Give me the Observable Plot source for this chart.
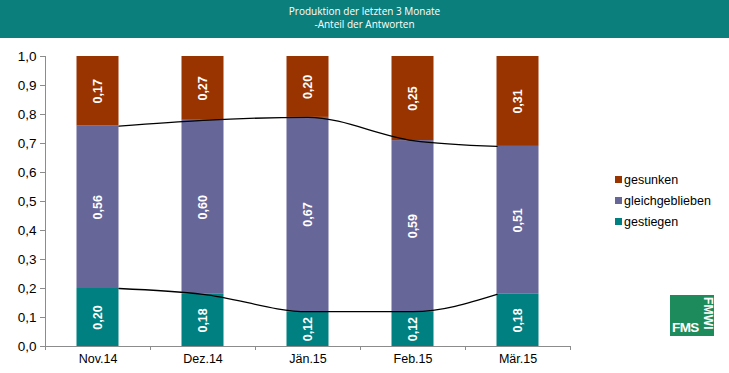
<!DOCTYPE html>
<html><head><meta charset="utf-8">
<script src="https://cdn.jsdelivr.net/npm/d3@7"></script>
<script src="https://cdn.jsdelivr.net/npm/@observablehq/plot@0.6"></script>
<style>
body{margin:0;background:#fff;font-family:"Liberation Sans",Arial,sans-serif;}
#wrap{position:relative;width:729px;height:373px;overflow:hidden;background:#fff}
#head{height:38px;background:#0b7f7c;color:#fff;text-align:center;font-size:10px;line-height:13px;padding-top:5px;box-sizing:border-box;font-family:"Open Sans","Liberation Sans",sans-serif;}
#chart svg{display:block}
.leg{position:absolute;left:615px;font-size:12.5px;color:#000;line-height:14px;white-space:nowrap}
.leg i{display:inline-block;width:7px;height:7px;margin-right:2px;vertical-align:1px}
#logo{position:absolute;left:670px;top:295px;width:44px;height:41px;background:#1d8b5c;overflow:hidden}
#logo .fms{position:absolute;left:2px;bottom:2px;color:#fff;font-weight:bold;font-size:13.5px;letter-spacing:-0.6px;line-height:12px}
#logo .fmwi{position:absolute;left:32px;top:2px;color:#fff;font-weight:bold;font-size:12px;line-height:11px;transform-origin:0 0;transform:translate(11px,0) rotate(90deg);letter-spacing:0.2px;white-space:nowrap}
</style></head>
<body>
<div id="wrap">
  <div id="head">Produktion der letzten 3 Monate<br>-Anteil der Antworten</div>
  <div id="chart"></div>
  <div id="legend"></div>
  <div id="logo"><span class="fms">FMS</span><span class="fmwi">FMWI</span></div>
</div>
<script>
const months = ["Nov.14", "Dez.14", "Jän.15", "Feb.15", "Mär.15"];
const gestiegen = [0.20, 0.18, 0.12, 0.12, 0.18];
const gleichgeblieben = [0.56, 0.60, 0.67, 0.59, 0.51];
const gesunken = [0.17, 0.27, 0.20, 0.25, 0.31];
const seriesNames = ["gesunken", "gleichgeblieben", "gestiegen"];
const seriesColors = {gesunken: "#993300", gleichgeblieben: "#666699", gestiegen: "#008080"};
const yTicks = [0, 0.1, 0.2, 0.3, 0.4, 0.5, 0.6, 0.7, 0.8, 0.9, 1.0];
const total = 1.0;
const halfBar = 0.2;

const fmt = v => v.toFixed(2).replace(".", ",");
const rows = [];
months.forEach((m, i) => {
  const g = gestiegen[i], s = gleichgeblieben[i];
  rows.push({i, series: "gestiegen", y1: 0, y2: g, label: fmt(g)});
  rows.push({i, series: "gleichgeblieben", y1: g, y2: g + s, label: fmt(s)});
  rows.push({i, series: "gesunken", y1: g + s, y2: total, label: fmt(gesunken[i])});
});
const n = months.length;
const lineX = i => i === 0 ? i + halfBar : i === n - 1 ? i - halfBar : i;
const lower = months.map((m, i) => ({x: lineX(i), y: gestiegen[i]}));
const upper = months.map((m, i) => ({x: lineX(i), y: gestiegen[i] + gleichgeblieben[i]}));

const chart = Plot.plot({
  width: 729, height: 335,
  marginLeft: 45, marginRight: 159, marginTop: 18, marginBottom: 27,
  style: {fontFamily: "'Liberation Sans', Arial, sans-serif", background: "#fff"},
  x: {type: "linear", domain: [-0.5, n - 0.5], axis: null},
  y: {domain: [0, 1], axis: null},
  marks: [
    Plot.rectY(rows, {x1: d => d.i - halfBar, x2: d => d.i + halfBar, y1: "y1", y2: "y2", fill: d => seriesColors[d.series]}),
    Plot.line(lower, {x: "x", y: "y", curve: "monotone-x", stroke: "#000", strokeWidth: 1.3}),
    Plot.line(upper, {x: "x", y: "y", curve: "monotone-x", stroke: "#000", strokeWidth: 1.3}),
    Plot.text(rows, {x: "i", y: d => (d.y1 + d.y2) / 2, text: "label", rotate: -90, fill: "#fff", fontWeight: "bold", fontSize: 12.5}),
    Plot.ruleX([-0.5], {stroke: "#8c8c8c"}),
    Plot.ruleY([0], {stroke: "#8c8c8c"}),
    Plot.axisY(yTicks, {anchor: "left", tickSize: 5, tickPadding: 4, tickFormat: d => d.toFixed(1).replace(".", ","), fontSize: 13.5, fill: "#000", stroke: "#8c8c8c"}),
    Plot.axisX(d3.range(n), {anchor: "bottom", tickSize: 0, tickPadding: 8, tickFormat: i => months[i], fontSize: 12.5, fill: "#000"}),
    Plot.axisX(d3.range(-0.5, n, 1), {anchor: "bottom", tickSize: 4, tickFormat: () => "", stroke: "#8c8c8c"})
  ]
});
document.getElementById("chart").appendChild(chart);

const legend = document.getElementById("legend");
seriesNames.forEach((name, k) => {
  const el = document.createElement("div");
  el.className = "leg";
  el.style.top = (173 + k * 21) + "px";
  el.innerHTML = `<i style="background:${seriesColors[name]}"></i>${name}`;
  legend.appendChild(el);
});
</script>
</body></html>
